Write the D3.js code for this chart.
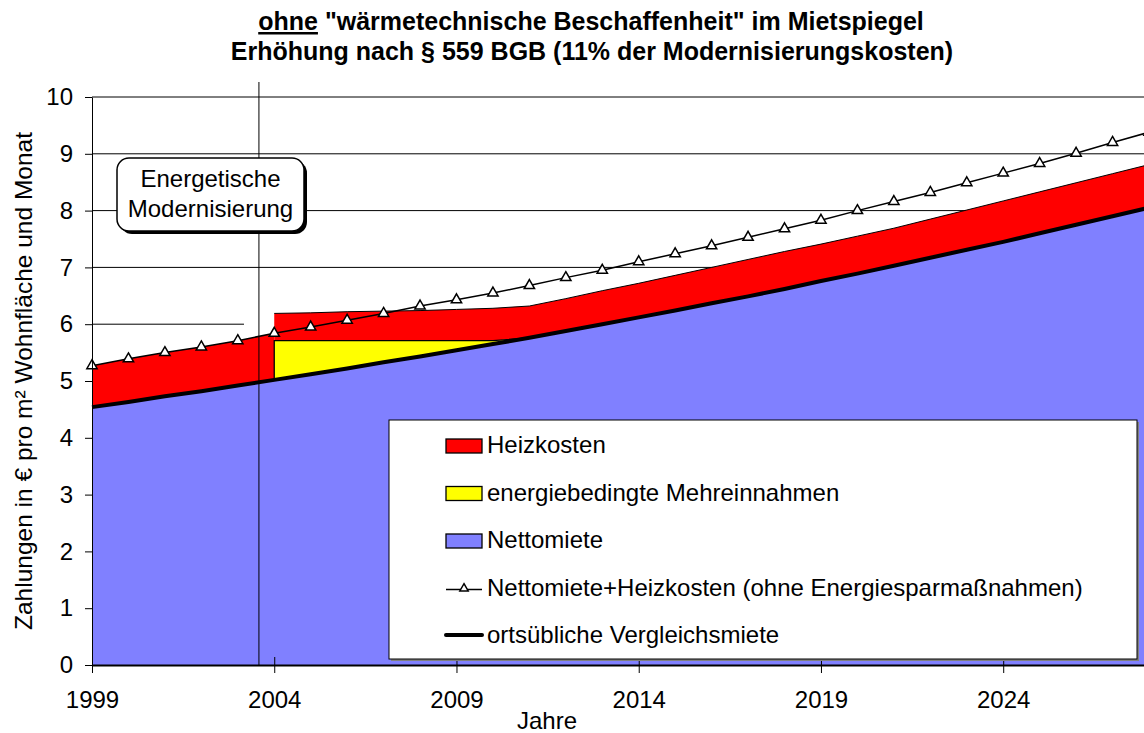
<!DOCTYPE html>
<html>
<head>
<meta charset="utf-8">
<script src="https://cdn.jsdelivr.net/npm/d3@7"></script>
<style>
    body { margin: 0; background: #fff; }
    svg { display: block; font-family: "Liberation Sans", Arial, sans-serif; }
</style>
</head>
<body>
<svg></svg>
<script>
//data, values in euro per m2 and month

const jahre = d3.range(1999, 2029)

//blue area and the thick black line (ortsuebliche Vergleichsmiete)
const nettomiete = [4.54, 4.63, 4.73, 4.82, 4.92, 5.02, 5.12, 5.22, 5.33, 5.43,
    5.54, 5.65, 5.76, 5.88, 6.00, 6.12, 6.24, 6.37, 6.49, 6.62,
    6.76, 6.89, 7.03, 7.17, 7.31, 7.45, 7.60, 7.75, 7.90, 8.05]

//line with triangles, ohne Energiesparmassnahmen
const nettoPlusHeizkosten = [5.27, 5.39, 5.50, 5.60, 5.71, 5.84, 5.95, 6.07, 6.19, 6.32,
    6.43, 6.55, 6.68, 6.82, 6.95, 7.10, 7.24, 7.38, 7.53, 7.68,
    7.83, 8.00, 8.16, 8.32, 8.49, 8.66, 8.83, 9.01, 9.20, 9.38]

//after the modernisation (from 2004 on)
const modernisierungsJahr = 2004
const mehreinnahmenJahre = d3.range(2004, 2012)
const mehreinnahmen = [0.69, 0.59, 0.49, 0.38, 0.28, 0.17, 0.06, 0]
const heizkostenJahre = d3.range(2004, 2029)
const heizkosten = [0.48, 0.49, 0.51, 0.52, 0.53, 0.55, 0.57, 0.56, 0.57, 0.59,
    0.60, 0.62, 0.63, 0.65, 0.66, 0.65, 0.66, 0.66, 0.68, 0.70,
    0.72, 0.73, 0.74, 0.75, 0.76]

const xTicks = [1999, 2004, 2009, 2014, 2019, 2024]
const yTicks = [0, 1, 2, 3, 4, 5, 6, 7, 8, 9, 10]
const markerJahr = 2003.58
const kurzeGitterlinie = {wert: 6, bis: 2003.17}

const legendEntries = [
    {name: 'Heizkosten', type: 'box', color: '#ff0000'},
    {name: 'energiebedingte Mehreinnahmen', type: 'box', color: '#ffff00'},
    {name: 'Nettomiete', type: 'box', color: '#8080ff'},
    {name: 'Nettomiete+Heizkosten (ohne Energiesparmaßnahmen)', type: 'marker'},
    {name: 'ortsübliche Vergleichsmiete', type: 'thick'}
]

const svgWidth = 1144
const svgHeight = 733

const svg = d3.select('svg')
    .attr('width', svgWidth)
    .attr('height', svgHeight)

const x = d3.scaleLinear().domain([1999, 2028]).range([92, 1149])
const y = d3.scaleLinear().domain([0, 10]).range([665, 97])

//helpers to get values per year
const netto = j => nettomiete[jahre.indexOf(j)]
const mehr = j => {
    const i = mehreinnahmenJahre.indexOf(j)
    return i < 0 ? 0 : mehreinnahmen[i]
}

//gridlines, behind everything
svg.append('g')
    .selectAll('line')
    .data(yTicks.filter(v => v > 0))
    .enter()
    .append('line')
    .attr('x1', x(1999))
    .attr('x2', v => v === kurzeGitterlinie.wert ? x(kurzeGitterlinie.bis) : x(2028))
    .attr('y1', v => y(v))
    .attr('y2', v => y(v))
    .attr('stroke', '#000')
    .attr('stroke-width', 1)

//nettomiete area
const blueArea = d3.area()
    .x(j => x(j))
    .y0(y(0))
    .y1(j => y(netto(j)))

svg.append('path')
    .datum(jahre)
    .attr('d', blueArea)
    .attr('fill', '#8080ff')

//heizkosten before the modernisation
const preJahre = jahre.filter(j => j <= modernisierungsJahr)
svg.append('path')
    .datum(preJahre)
    .attr('d', d3.area()
        .x(j => x(j))
        .y0(j => y(netto(j)))
        .y1(j => y(nettoPlusHeizkosten[jahre.indexOf(j)])))
    .attr('fill', '#ff0000')

//heizkosten after the modernisation, stacked on nettomiete + mehreinnahmen
const redTop = j => netto(j) + mehr(j) + heizkosten[heizkostenJahre.indexOf(j)]
svg.append('path')
    .datum(heizkostenJahre)
    .attr('d', d3.area()
        .x(j => x(j))
        .y0(j => y(netto(j) + mehr(j)))
        .y1(j => y(redTop(j))))
    .attr('fill', '#ff0000')

svg.append('path')
    .datum(heizkostenJahre)
    .attr('d', d3.line().x(j => x(j)).y(j => y(redTop(j))))
    .attr('fill', 'none')
    .attr('stroke', '#000')
    .attr('stroke-width', 1)

//energiebedingte mehreinnahmen
svg.append('path')
    .datum(mehreinnahmenJahre)
    .attr('d', d3.area()
        .x(j => x(j))
        .y0(j => y(netto(j)))
        .y1(j => y(netto(j) + mehr(j))))
    .attr('fill', '#ffff00')
    .attr('stroke', '#000')
    .attr('stroke-width', 1.3)

//ortsuebliche vergleichsmiete
svg.append('path')
    .datum(jahre)
    .attr('d', d3.line().x(j => x(j)).y(j => y(netto(j))))
    .attr('fill', 'none')
    .attr('stroke', '#000')
    .attr('stroke-width', 4)

//nettomiete + heizkosten ohne energiesparmassnahmen
svg.append('path')
    .datum(jahre)
    .attr('d', d3.line().x(j => x(j)).y((j, i) => y(nettoPlusHeizkosten[i])))
    .attr('fill', 'none')
    .attr('stroke', '#000')
    .attr('stroke-width', 1.5)

const triangle = d3.symbol().type(d3.symbolTriangle).size(46)
svg.append('g')
    .selectAll('path')
    .data(jahre)
    .enter()
    .append('path')
    .attr('d', triangle)
    .attr('transform', (j, i) => `translate(${x(j)}, ${y(nettoPlusHeizkosten[i])})`)
    .attr('fill', '#fff')
    .attr('stroke', '#000')
    .attr('stroke-width', 1.5)

//vertical line for the modernisation
svg.append('line')
    .attr('x1', x(markerJahr))
    .attr('x2', x(markerJahr))
    .attr('y1', y(10) - 15)
    .attr('y2', y(0))
    .attr('stroke', '#000')
    .attr('stroke-width', 1)

//axes
const yAxis = svg.append('g')
    .attr('transform', `translate(${x(1999)}, 0)`)
    .call(d3.axisLeft(y).tickValues(yTicks).tickSize(7).tickSizeOuter(0).tickPadding(12))
yAxis.select('.domain').attr('stroke', '#000')
yAxis.selectAll('text').style('font-size', '24px').style('font-family', 'Liberation Sans, Arial, sans-serif').attr('fill', '#000')

const xAxis = svg.append('g')
    .attr('transform', `translate(0, ${y(0)})`)
    .call(d3.axisBottom(x).tickValues(xTicks).tickSize(8).tickSizeOuter(0).tickPadding(18).tickFormat(d3.format('d')))
xAxis.select('.domain').attr('stroke', '#000').attr('stroke-width', 2)
xAxis.selectAll('.tick line').attr('y1', -8).attr('stroke', '#000')
xAxis.selectAll('text').style('font-size', '24px').style('font-family', 'Liberation Sans, Arial, sans-serif').attr('fill', '#000')

//axis titles
svg.append('text')
    .attr('x', 547)
    .attr('y', 729)
    .attr('text-anchor', 'middle')
    .style('font-size', '24px')
    .text('Jahre')

svg.append('text')
    .attr('transform', `translate(32, ${(y(0) + y(10)) / 2}) rotate(-90)`)
    .attr('text-anchor', 'middle')
    .style('font-size', '24.5px')
    .text('Zahlungen in € pro m² Wohnfläche und Monat')

//title
const title = svg.append('text')
    .attr('x', 591)
    .attr('y', 30)
    .attr('text-anchor', 'middle')
    .style('font-size', '25px')
    .style('font-weight', 'bold')
title.append('tspan').style('text-decoration', 'underline').text('ohne')
title.append('tspan').text(' "wärmetechnische Beschaffenheit" im Mietspiegel')

svg.append('text')
    .attr('x', 592)
    .attr('y', 60)
    .attr('text-anchor', 'middle')
    .style('font-size', '25px')
    .style('font-weight', 'bold')
    .text('Erhöhung nach § 559 BGB (11% der Modernisierungskosten)')

//label box
const box = svg.append('g').attr('transform', 'translate(117, 158)')
box.append('rect')
    .attr('x', 3).attr('y', 3)
    .attr('width', 187).attr('height', 73)
    .attr('rx', 12)
    .attr('fill', '#000')
box.append('rect')
    .attr('width', 187).attr('height', 73)
    .attr('rx', 12)
    .attr('fill', '#fff')
    .attr('stroke', '#000')
    .attr('stroke-width', 1.5)
box.selectAll('text')
    .data(['Energetische', 'Modernisierung'])
    .enter()
    .append('text')
    .attr('x', 93.5)
    .attr('y', (d, i) => 29 + i * 30)
    .attr('text-anchor', 'middle')
    .style('font-size', '24px')
    .text(d => d)

//legend
const legend = svg.append('g').attr('transform', 'translate(389, 420)')
legend.append('rect')
    .attr('x', 2).attr('y', 2)
    .attr('width', 748).attr('height', 239)
    .attr('fill', '#808080')
legend.append('rect')
    .attr('width', 748).attr('height', 239)
    .attr('fill', '#fff')
    .attr('stroke', '#000')
    .attr('stroke-width', 1)

const rows = legend.selectAll('g.row')
    .data(legendEntries)
    .enter()
    .append('g')
    .attr('class', 'row')
    .attr('transform', (d, i) => `translate(0, ${33 + i * 47.5})`)

rows.filter(d => d.type === 'box')
    .append('rect')
    .attr('x', 57).attr('y', -14)
    .attr('width', 36).attr('height', 14)
    .attr('fill', d => d.color)
    .attr('stroke', '#000')
    .attr('stroke-width', 1.3)

rows.filter(d => d.type === 'marker')
    .append('line')
    .attr('x1', 57).attr('x2', 93)
    .attr('y1', -6).attr('y2', -6)
    .attr('stroke', '#000')
    .attr('stroke-width', 1.5)
rows.filter(d => d.type === 'marker')
    .append('path')
    .attr('d', d3.symbol().type(d3.symbolTriangle).size(30))
    .attr('transform', 'translate(75, -7)')
    .attr('fill', '#fff')
    .attr('stroke', '#000')
    .attr('stroke-width', 1.5)

rows.filter(d => d.type === 'thick')
    .append('line')
    .attr('x1', 57).attr('x2', 93)
    .attr('y1', -8).attr('y2', -8)
    .attr('stroke', '#000')
    .attr('stroke-width', 4)
    .attr('stroke-linecap', 'round')

rows.append('text')
    .attr('x', 98)
    .attr('y', 0)
    .style('font-size', '24px')
    .text(d => d.name)
</script>
</body>
</html>
